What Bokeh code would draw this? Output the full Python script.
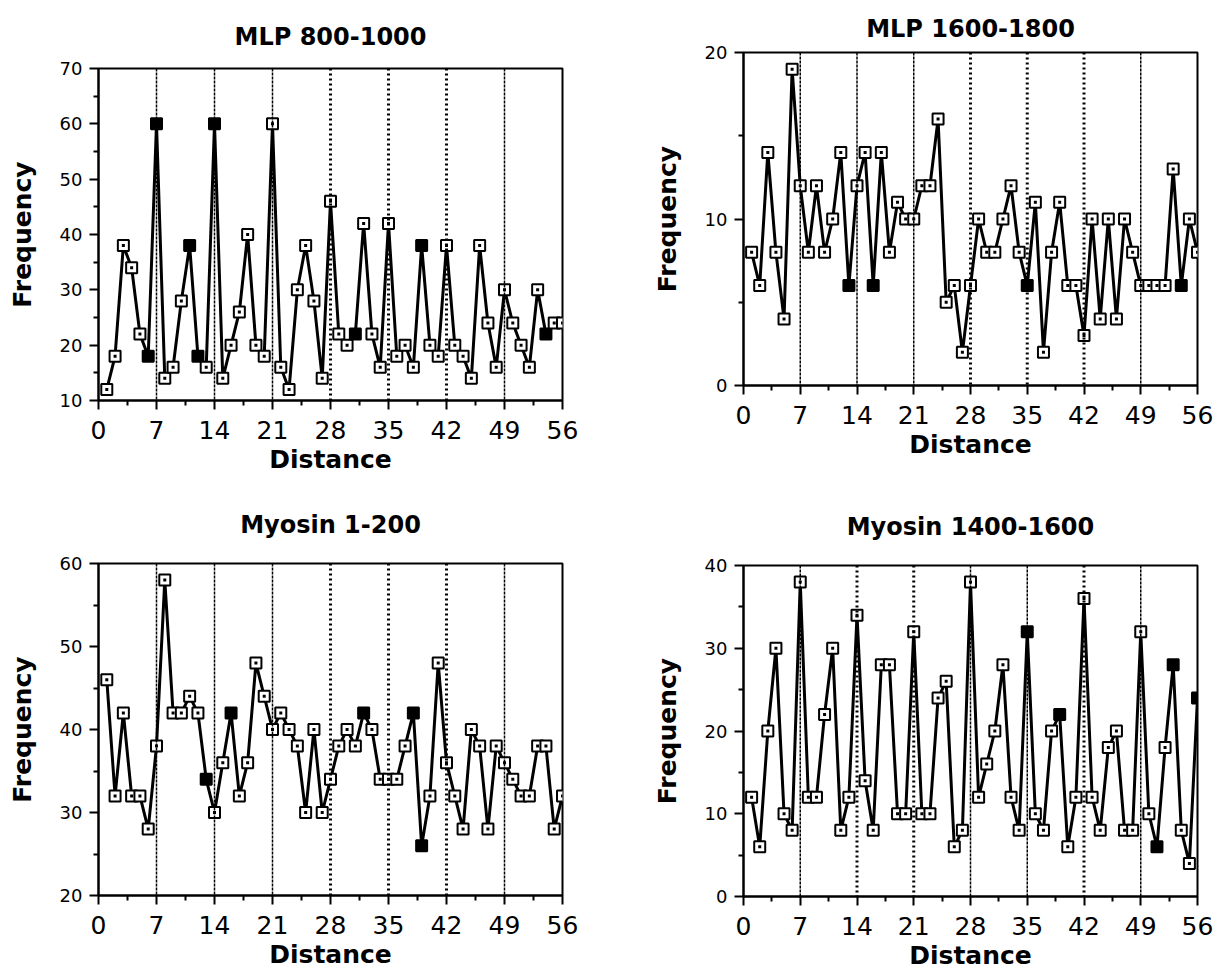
from bokeh.plotting import figure
from bokeh.layouts import column, row
from bokeh.models import Range1d, FixedTicker, Span, ColumnDataSource
from bokeh.embed import file_html
from bokeh.resources import INLINE

# ---------------- data ----------------
distance = list(range(1, 57))
x_ticks = [0, 7, 14, 21, 28, 35, 42, 49, 56]
x_minor = [3.5, 10.5, 17.5, 24.5, 31.5, 38.5, 45.5, 52.5]
period_lines = [7, 14, 21, 28, 35, 42, 49]

mlp_800_1000 = [12, 18, 38, 34, 22, 18, 60, 14, 16, 28,
                38, 18, 16, 60, 14, 20, 26, 40, 20, 18,
                60, 16, 12, 30, 38, 28, 14, 46, 22, 20,
                22, 42, 22, 16, 42, 18, 20, 16, 38, 20,
                18, 38, 20, 18, 14, 38, 24, 16, 30, 24,
                20, 16, 30, 22, 24, 24]
mlp_800_1000_filled = [6, 7, 11, 12, 14, 31, 39, 54]

mlp_1600_1800 = [8, 6, 14, 8, 4, 19, 12, 8, 12, 8,
                 10, 14, 6, 12, 14, 6, 14, 8, 11, 10,
                 10, 12, 12, 16, 5, 6, 2, 6, 10, 8,
                 8, 10, 12, 8, 6, 11, 2, 8, 11, 6,
                 6, 3, 10, 4, 10, 4, 10, 8, 6, 6,
                 6, 6, 13, 6, 10, 8]
mlp_1600_1800_filled = [13, 16, 35, 54]

myosin_1_200 = [46, 32, 42, 32, 32, 28, 38, 58, 42, 42,
                44, 42, 34, 30, 36, 42, 32, 36, 48, 44,
                40, 42, 40, 38, 30, 40, 30, 34, 38, 40,
                38, 42, 40, 34, 34, 34, 38, 42, 26, 32,
                48, 36, 32, 28, 40, 38, 28, 38, 36, 34,
                32, 32, 38, 38, 28, 32]
myosin_1_200_filled = [13, 16, 32, 38, 39]

myosin_1400_1600 = [12, 6, 20, 30, 10, 8, 38, 12, 12, 22,
                    30, 8, 12, 34, 14, 8, 28, 28, 10, 10,
                    32, 10, 10, 24, 26, 6, 8, 38, 12, 16,
                    20, 28, 12, 8, 32, 10, 8, 20, 22, 6,
                    12, 36, 12, 8, 18, 20, 8, 8, 32, 10,
                    6, 18, 28, 8, 4, 24]
myosin_1400_1600_filled = [35, 39, 51, 53, 56]

FONT = "DejaVu Sans"


def make_panel(title, values, filled, ylo, yhi, yticks, yminor, heavy,
               width, height, bl, br, bt, bb, title_standoff):
    p = figure(width=width, height=height, x_range=Range1d(0, 56),
               y_range=Range1d(ylo, yhi), output_backend="svg",
               toolbar_location=None, min_border_left=bl, min_border_right=br,
               min_border_top=bt, min_border_bottom=bb)
    p.title.text = title
    p.title.align = "center"
    p.title.text_font = FONT
    p.title.text_font_size = "24px"
    p.title.text_font_style = "bold"
    p.title.text_color = "black"
    p.title.standoff = title_standoff
    p.grid.visible = False
    p.outline_line_color = "black"
    p.outline_line_width = 2
    p.outline_line_alpha = 1
    p.background_fill_color = "white"
    p.border_fill_color = "white"

    p.xaxis.ticker = FixedTicker(ticks=x_ticks, minor_ticks=x_minor)
    p.yaxis.ticker = FixedTicker(ticks=yticks, minor_ticks=yminor)
    p.xaxis.axis_label = "Distance"
    p.yaxis.axis_label = "Frequency"
    for ax in (p.xaxis[0], p.yaxis[0]):
        ax.axis_line_width = 2
        ax.axis_line_color = "black"
        ax.major_tick_line_width = 2
        ax.minor_tick_line_width = 2
        ax.major_tick_line_color = "black"
        ax.minor_tick_line_color = "black"
        ax.major_tick_out = 9
        ax.major_tick_in = 0
        ax.minor_tick_out = 5
        ax.minor_tick_in = 0
        ax.axis_label_text_font = FONT
        ax.axis_label_text_font_style = "bold"
        ax.axis_label_text_font_size = "25px"
        ax.major_label_text_font = FONT
        ax.major_label_text_color = "black"
        ax.axis_label_text_color = "black"
    p.xaxis.major_label_text_font_size = "25px"
    p.yaxis.major_label_text_font_size = "18px"
    p.xaxis.major_label_standoff = 11
    p.yaxis.major_label_standoff = 7
    p.xaxis.axis_label_standoff = 3
    p.yaxis.axis_label_standoff = 20

    for loc in period_lines:
        if loc in heavy:
            s = Span(location=loc, dimension="height", line_color="black",
                     line_width=3, line_dash="2 3")
        else:
            s = Span(location=loc, dimension="height", line_color="black",
                     line_width=1.5, line_dash="3 1")
        p.add_layout(s)

    fills = ["black" if d in filled else "white" for d in distance]
    src = ColumnDataSource(dict(x=distance, y=values, fill=fills))
    p.line("x", "y", source=src, line_color="black", line_width=3)
    p.scatter("x", "y", source=src, marker="square", size=11,
              fill_color="fill", line_color="black", line_width=2)
    ox = [d for d in distance if d not in filled]
    oy = [v for d, v in zip(distance, values) if d not in filled]
    p.scatter(ox, oy, marker="square", size=3, fill_color="black",
              line_color=None)
    return p


p1 = make_panel("MLP 800-1000", mlp_800_1000, mlp_800_1000_filled,
                10, 70, [10, 20, 30, 40, 50, 60, 70], [15, 25, 35, 45, 55, 65],
                [28, 35, 42], 608, 478, 98, 46, 68, 78, 36)
p2 = make_panel("MLP 1600-1800", mlp_1600_1800, mlp_1600_1800_filled,
                0, 20, [0, 10, 20], [5, 15],
                [28, 35, 42], 607, 478, 132, 18, 52, 93, 20)
p3 = make_panel("Myosin 1-200", myosin_1_200, myosin_1_200_filled,
                20, 60, [20, 30, 40, 50, 60], [25, 35, 45, 55],
                [28, 35, 42], 608, 494, 98, 46, 85, 77, 50)
p4 = make_panel("Myosin 1400-1600", myosin_1400_1600, myosin_1400_1600_filled,
                0, 40, [0, 10, 20, 30, 40], [5, 15, 25, 35],
                [14, 21, 42], 607, 494, 135, 16, 87, 74, 50)

layout = row(column(p1, p3), column(p2, p4))
open("out.html", "w").write(file_html(layout, INLINE))
